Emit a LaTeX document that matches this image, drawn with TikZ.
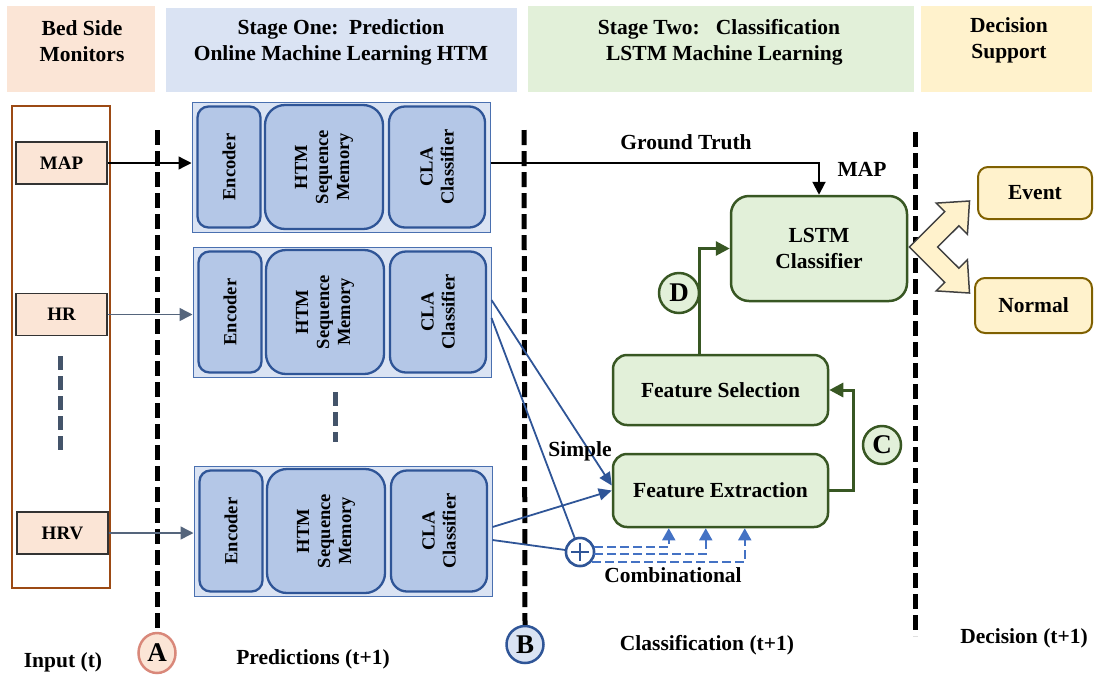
\documentclass[tikz,border=0pt]{standalone}
\usepackage{fontspec}
\setmainfont{Liberation Serif}
\usetikzlibrary{arrows.meta,calc,shapes.geometric}
\definecolor{peach}{HTML}{FBE5D6}
\definecolor{lblue}{HTML}{DAE3F3}
\definecolor{lgreen}{HTML}{E2F0D9}
\definecolor{lyellow}{HTML}{FFF2CC}
\definecolor{mblue}{HTML}{B4C7E7}
\definecolor{dblue}{HTML}{2F5597}
\definecolor{oblue}{HTML}{4A70B0}
\definecolor{dgreen}{HTML}{385723}
\definecolor{brn}{HTML}{9C4A14}
\definecolor{gold}{HTML}{7F6000}
\definecolor{slate}{HTML}{44546A}
\definecolor{cblue}{HTML}{4472C4}
\definecolor{agray}{HTML}{55657C}
\definecolor{pinkred}{HTML}{D9887A}
\newcommand\fmain{\bfseries\fontsize{21.5}{26}\selectfont}
\newcommand\fin{\bfseries\fontsize{19}{22}\selectfont}
\newcommand\frot{\bfseries\fontsize{18.5}{21}\selectfont}
\newcommand\fcirc{\bfseries\fontsize{27}{30}\selectfont}
\tikzset{
  hdr/.style={rectangle, draw=none, inner sep=0},
  txt/.style={font=\fmain, align=center, inner sep=0},
  inp/.style={rectangle, draw=black!80, line width=1.3, fill=peach, minimum width=91, minimum height=42, font=\fin, inner sep=0},
  outerblk/.style={rectangle, draw=oblue, line width=1, fill=lblue, minimum width=298, minimum height=130, inner sep=0},
  innerblk/.style={rectangle, draw=dblue, line width=2.3, fill=mblue, inner sep=0},
  rtxt/.style={rotate=90, align=center, font=\frot, inner sep=0},
  grbox/.style={rectangle, draw=dgreen, line width=2.5, fill=lgreen, font=\fmain, align=center, inner sep=0},
  ybox/.style={rectangle, rounded corners=10, draw=gold, line width=2, fill=lyellow, font=\fmain, inner sep=0},
  sep/.style={draw=black, line width=5, dash pattern=on 15pt off 6pt},
  gdash/.style={draw=slate, line width=5, dash pattern=on 14pt off 6pt},
  circ/.style={circle, line width=2.5, inner sep=0, font=\fcirc},
  blk/.style={draw=black, line width=2, -{Triangle[length=13pt,width=13pt]}},
  garr/.style={draw=agray, line width=1.5, -{Triangle[length=13pt,width=13pt]}},
  barr/.style={draw=dblue, line width=1.8, -{Triangle[length=13pt,width=12pt]}},
  bline/.style={draw=dblue, line width=1.8},
  grarr/.style={draw=dgreen, line width=3, -{Triangle[length=14pt,width=14pt]}},
  cdash/.style={draw=cblue, line width=1.8, dash pattern=on 9pt off 4pt, -{Triangle[length=12pt,width=13pt]}},
}
\newcommand\htmblock[3]{%
  \node[outerblk] (#1) at (#2,#3) {};
  \node[innerblk, rounded corners=11, minimum width=63, minimum height=121] (#1e) at ($(#1)+(-112,0)$) {};
  \node[innerblk, rounded corners=20, minimum width=118, minimum height=124] (#1h) at ($(#1)+(-17,0)$) {};
  \node[innerblk, rounded corners=16, minimum width=96, minimum height=121] (#1c) at ($(#1)+(96,0)$) {};
  \node[rtxt] (#1et) at (#1e) {Encoder};
  \node[rtxt] (#1ht) at (#1h) {HTM\\Sequence\\Memory};
  \node[rtxt] (#1ct) at (#1c) {CLA\\Classifier};
}
\begin{document}
\begin{tikzpicture}[x=1pt,y=-1pt]
\useasboundingbox (0,0) rectangle (1094,678);
% headers
\node[hdr, fill=peach, minimum width=148, minimum height=86] (h1) at (81,49) {};
\node[hdr, fill=lblue, minimum width=351, minimum height=84] (h2) at (341.5,50) {};
\node[hdr, fill=lgreen, minimum width=386, minimum height=86] (h3) at (721,49) {};
\node[hdr, fill=lyellow, minimum width=171, minimum height=86] (h4) at (1006.5,49) {};
\node[txt] (h1t) at (82,41) {Bed Side\\Monitors};
\node[txt] (h2t) at (341,42) {Stage One:\ \ Prediction\\Online Machine Learning HTM};
\node[txt] (h3t) at (719,42) {Stage Two:\ \ \ Classification\\\ \ LSTM Machine Learning};
\node[txt] (h4t) at (1009,40) {Decision\\Support};
% circles on separators
\node[ellipse, line width=2.5, inner sep=0, font=\fcirc, fill=peach, draw=pinkred, minimum width=37, minimum height=40] (cA) at (157,653) {A};
\node[circ, fill=lblue, draw=dblue, minimum size=37] (cB) at (525,644.5) {B};
\coordinate (tA) at (157,130);
\coordinate (tB) at (524,130);
\coordinate (tC) at (915,132);
\coordinate (bC) at (915,636);
\draw[sep] (tA) -- (cA.north);
\draw[sep] (tB) -- (cB.north);
\draw[sep] (tC) -- (bC);
% input column
\node[rectangle, draw=brn, line width=2, fill=white, minimum width=98, minimum height=482] (inbox) at (61,347) {};
\node[inp] (map) at (61.5,163) {MAP};
\node[inp] (hr) at (61.5,314.5) {HR};
\node[inp] (hrv) at (62.5,533) {HRV};
\coordinate (gd1) at (60,356);
\coordinate (gd2) at (60,454);
\draw[gdash] (gd1) -- (gd2);
% HTM blocks
\htmblock{b1}{341}{167}
\htmblock{b2}{342}{312}
\htmblock{b3}{343}{531}
\coordinate (gd3) at (335,392);
\coordinate (gd4) at (335,442);
\draw[gdash] (gd3) -- (gd4);
% input arrows
\draw[blk, line width=1.3] (map.east) -- (map.east -| b1.west);
\draw[garr] (hr.east) -- (hr.east -| b2.west);
\draw[garr] (hrv.east) -- (hrv.east -| b3.west);
% stage two boxes
\node[grbox, rounded corners=18, minimum width=176, minimum height=105] (lstm) at (819,248.5) {LSTM\\Classifier};
\node[grbox, rounded corners=14, minimum width=215, minimum height=70] (fs) at (720.5,390) {Feature Selection};
\node[grbox, rounded corners=14, minimum width=215, minimum height=73] (fe) at (720.5,490.5) {Feature Extraction};
% ground truth
\draw[blk] (b1.east |- map.east) -| (lstm.north);
\node[txt] (gtl) at (686,142) {Ground Truth};
\node[txt] (mapl) at (862,169) {MAP};
% green connectors
\draw[grarr] ($(fs.north)+(-21.5,0)$) |- (lstm.west);
\draw[grarr] (fe.east) -- ++(24,0) |- (fs.east);
\node[circ, fill=lgreen, draw=dgreen, minimum size=40] (cD) at (679,293) {D};
\node[circ, fill=lgreen, draw=dgreen, minimum size=38] (cC) at (882,445) {C};
% plus junction
\node[circle, draw=dblue, line width=2.5, fill=white, minimum size=28, inner sep=0] (plus) at (580,552) {};
% blue lines
\draw[barr] ($(b2.east)+(0,-12)$) -- ($(fe.west)+(0,-5)$);
\draw[bline] ($(b2.east)+(0,6)$) -- (plus);
\draw[barr] ($(b3.east)+(0,-4)$) -- (fe.west);
\draw[bline] ($(b3.east)+(0,9)$) -- (plus);
% plus on top
\node[circle, draw=dblue, line width=2.5, fill=white, minimum size=28, inner sep=0] (plus2) at (plus) {};
\draw[draw=dblue, line width=1.5] ($(plus2)+(0,-9)$) -- ($(plus2)+(0,9)$);
\draw[draw=dblue, line width=1.5] ($(plus2)+(-9,0)$) -- ($(plus2)+(9,0)$);
% combinational dashed
\draw[cdash] ($(plus2.east)+(-1,-5)$) -| ($(fe.south west)+(57,0)$);
\draw[cdash] ($(plus2.east)+(-1,2)$) -| ($(fe.south west)+(94,0)$);
\draw[cdash] ($(plus2.east)+(-3,10)$) -| ($(fe.south west)+(133,0)$);
\node[txt] (simple) at (580,451) {Simple};
\node[txt] (comb) at (673,575) {Combinational};
% decision
\node[ybox, minimum width=114, minimum height=52] (ev) at (1035,193) {Event};
\node[ybox, minimum width=117, minimum height=55] (nm) at (1033.5,305.5) {Normal};
\draw[fill=lyellow, draw=black!75, line width=1.5, line join=miter]
  (909.4,247) -- (944.7,211.6) -- (936.2,203.1) -- (969.5,201) -- (967.4,234.3) -- (958.9,225.8)
  -- (937.6,247) -- (958.9,268.2) -- (967.4,259.7) -- (969.5,293) -- (936.2,290.9) -- (944.7,282.4) -- cycle;
% bottom labels
\node[txt] (l1) at (63,662) {Input (t)};
\node[txt] (l2) at (313,659) {Predictions (t+1)};
\node[txt] (l3) at (707,645) {Classification (t+1)};
\node[txt] (l4) at (1024,638) {Decision (t+1)};
\end{tikzpicture}
\end{document}
